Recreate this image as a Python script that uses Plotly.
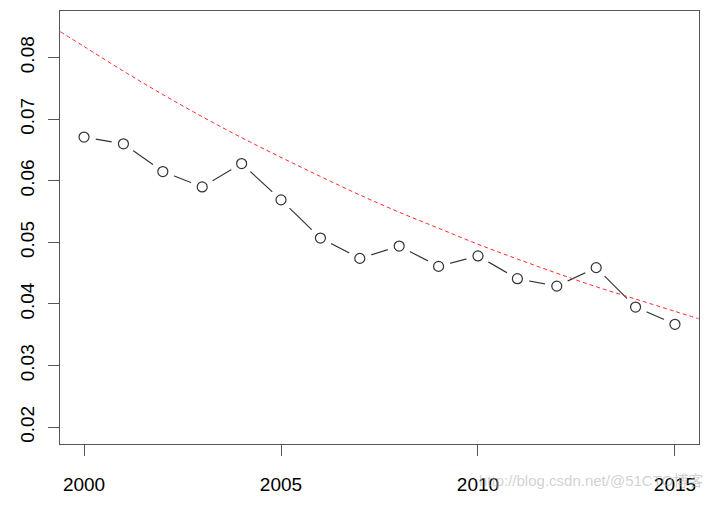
import plotly.graph_objects as go

years = [2000, 2001, 2002, 2003, 2004, 2005, 2006, 2007, 2008, 2009,
         2010, 2011, 2012, 2013, 2014, 2015]
rate = [0.0671, 0.0660, 0.0615, 0.0590, 0.0628, 0.0569, 0.0507, 0.0474,
        0.0494, 0.0461, 0.0478, 0.0441, 0.0429, 0.0459, 0.0395, 0.0367]

fit_years = [1999.4, 2000, 2001, 2002, 2003, 2004, 2005, 2006, 2007, 2008,
             2009, 2010, 2011, 2012, 2013, 2014, 2015, 2015.6]
fit_vals = [0.0842, 0.0818, 0.0778, 0.0740, 0.0704, 0.0670, 0.0638, 0.0607,
            0.0577, 0.0549, 0.0523, 0.0497, 0.0473, 0.0450, 0.0428, 0.0408,
            0.0388, 0.0376]

x_ticks = [2000, 2005, 2010, 2015]
y_ticks = [0.02, 0.03, 0.04, 0.05, 0.06, 0.07, 0.08]
y_labels = ["0.02", "0.03", "0.04", "0.05", "0.06", "0.07", "0.08"]

FONT = "Liberation Sans, Arial, Helvetica, sans-serif"
DARK = "#333333"

fig = go.Figure()
# connecting line
fig.add_trace(go.Scatter(x=years, y=rate, mode="lines",
                         line=dict(color=DARK, width=1.2), hoverinfo="skip"))
# white discs to create gaps like R type="b"
fig.add_trace(go.Scatter(x=years, y=rate, mode="markers",
                         marker=dict(symbol="circle", size=24, color="white",
                                     line=dict(width=0)), hoverinfo="skip"))
# open circles
fig.add_trace(go.Scatter(x=years, y=rate, mode="markers",
                         marker=dict(symbol="circle-open", size=10, color=DARK,
                                     line=dict(width=1.2, color=DARK))))
# fitted curve
fig.add_trace(go.Scatter(x=fit_years, y=fit_vals, mode="lines",
                         line=dict(color="#ff2a2a", width=1, dash="4px,3px",
                                   shape="spline"),
                         hoverinfo="skip"))

fig.update_layout(
    width=717, height=505,
    margin=dict(l=60, r=18, t=10, b=58),
    paper_bgcolor="white", plot_bgcolor="white",
    showlegend=False,
    font=dict(family=FONT, size=19, color="black"),
    xaxis=dict(range=[1999.39, 2015.61], tickmode="array", tickvals=x_ticks,
               ticktext=[str(t) for t in x_ticks],
               showgrid=False, zeroline=False,
               showline=True, mirror=True, linecolor="#555", linewidth=1,
               ticks="outside", ticklen=11, tickcolor="#555", tickwidth=1,
               ticklabelstandoff=12),
    yaxis=dict(range=[0.01727, 0.08756], tickmode="array", tickvals=y_ticks,
               ticktext=y_labels, tickangle=-90,
               showgrid=False, zeroline=False,
               showline=True, mirror=True, linecolor="#555", linewidth=1,
               ticks="outside", ticklen=11, tickcolor="#555", tickwidth=1,
               ticklabelstandoff=6),
)

fig.add_annotation(text="http://blog.csdn.net/@51CTO博客", xref="paper", yref="paper",
                   x=1.01, y=-0.085, xanchor="right", yanchor="middle",
                   showarrow=False,
                   font=dict(family="Liberation Sans, Noto Sans CJK SC, sans-serif",
                             size=15, color="rgba(170,170,170,0.55)"))

fig.write_html("out.html")
